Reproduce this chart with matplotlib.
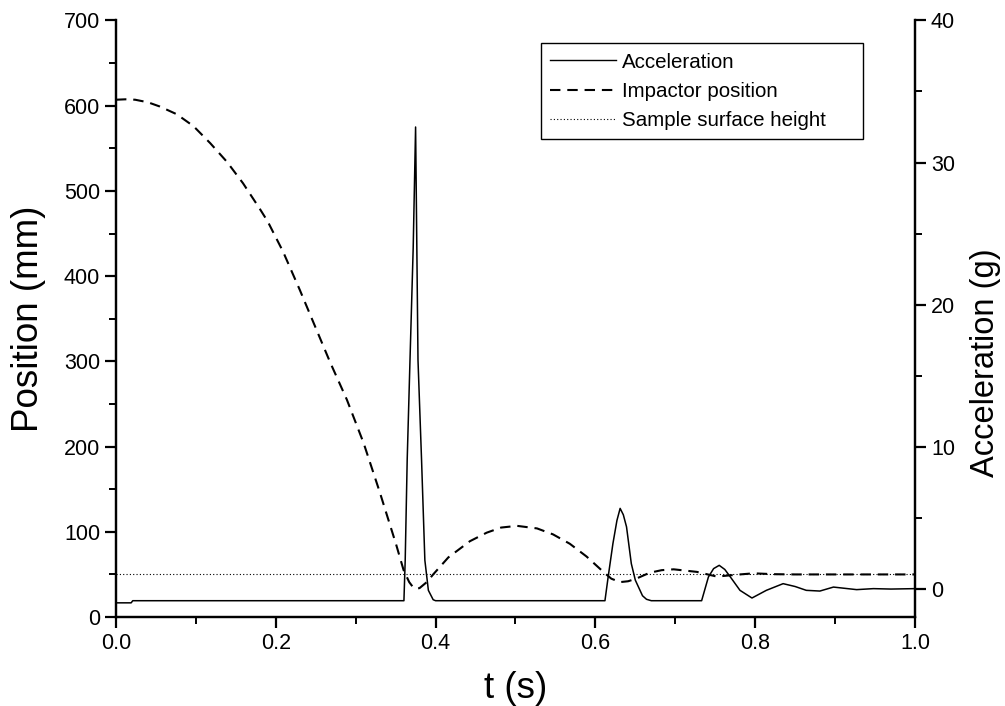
import matplotlib
matplotlib.use("Agg")
import matplotlib.pyplot as plt
from matplotlib.ticker import MultipleLocator, FormatStrFormatter
from matplotlib.lines import Line2D

plt.rcParams['font.family'] = ['Liberation Sans', 'DejaVu Sans']

# impactor position (mm)
t_pos = [0.0, 0.012, 0.024, 0.040, 0.055, 0.076, 0.097, 0.118, 0.139, 0.159,
         0.180, 0.190, 0.209, 0.230, 0.251, 0.268, 0.289, 0.310, 0.330, 0.351,
         0.360, 0.367, 0.371, 0.375, 0.380, 0.389, 0.397, 0.416, 0.443, 0.464,
         0.482, 0.502, 0.527, 0.547, 0.568, 0.589, 0.610, 0.620, 0.631, 0.641,
         0.651, 0.668, 0.683, 0.698, 0.727, 0.752, 0.781, 0.798, 0.823, 0.850,
         0.900, 0.950, 1.0]
pos = [607, 607.5, 607, 604, 599, 590, 576, 556, 534, 509,
       479, 464, 429, 384, 337, 299, 255, 204, 147, 84,
       55, 41, 36, 33, 34, 41, 50, 70, 89, 99,
       105, 107, 104, 97, 86, 71, 53, 45, 41, 42,
       45, 52, 55, 56, 53, 47.5, 50, 51.3, 50.3, 50,
       50, 50, 50]

# acceleration (g)
t_acc = [0.0, 0.019, 0.021, 0.3604, 0.362, 0.3645, 0.368, 0.372, 0.375, 0.378,
         0.3825, 0.3866, 0.391, 0.397, 0.400, 0.612, 0.616, 0.622, 0.627, 0.631,
         0.635, 0.639, 0.645, 0.650, 0.654, 0.659, 0.664, 0.670, 0.733, 0.7415,
         0.748, 0.755, 0.762, 0.769, 0.781, 0.796, 0.814, 0.835, 0.850, 0.864,
         0.881, 0.898, 0.927, 0.948, 0.970, 1.0]
acc = [-1.0, -1.0, -0.85, -0.85, 2.0, 9.1, 16.1, 24.0, 32.5, 16.1,
       9.0, 2.0, -0.12, -0.78, -0.85, -0.85, 0.82, 3.18, 4.8, 5.65,
       5.2, 4.35, 1.76, 0.6, 0.11, -0.5, -0.75, -0.85, -0.85, 0.82,
       1.41, 1.64, 1.35, 0.82, -0.12, -0.66, -0.12, 0.35, 0.15, -0.12,
       -0.17, 0.11, -0.07, 0.0, -0.03, 0.0]

surface_height = 50

fig = plt.figure(figsize=(10.05, 7.06), dpi=100)
ax = fig.add_axes([0.1154, 0.126, 0.795, 0.845])
ax2 = ax.twinx()

ax.plot(t_pos, pos, color='black', lw=1.5, linestyle=(0, (5, 3.3)))
ax.plot([0, 1], [surface_height, surface_height], color='black', lw=0.8, linestyle=(0, (1, 2)))
ax2.plot(t_acc, acc, color='black', lw=1.1)

ax.set_xlim(0, 1)
ax.set_ylim(0, 700)
ax2.set_ylim(-2, 40)

ax.xaxis.set_major_locator(MultipleLocator(0.2))
ax.xaxis.set_minor_locator(MultipleLocator(0.1))
ax.xaxis.set_major_formatter(FormatStrFormatter('%.1f'))
ax.yaxis.set_major_locator(MultipleLocator(100))
ax.yaxis.set_minor_locator(MultipleLocator(50))
ax2.yaxis.set_major_locator(MultipleLocator(10))
ax2.yaxis.set_minor_locator(MultipleLocator(5))

for a in (ax, ax2):
    a.spines['top'].set_visible(False)
    for s in a.spines.values():
        s.set_linewidth(1.6)
    a.tick_params(which='major', direction='out', length=8, width=1.6, labelsize=15.5)
    a.tick_params(which='minor', direction='out', length=5, width=1.4)

ax.set_xlabel('t (s)', fontsize=26.5, labelpad=12)
ax.set_ylabel('Position (mm)', fontsize=26.5, labelpad=13)
ax2.set_ylabel('Acceleration (g)', fontsize=23.5, labelpad=11)
# the right label sits a bit below the axis centre in the reference
ax2.yaxis.label.set_y(0.427)

handles = [Line2D([], [], color='black', lw=1.0),
           Line2D([], [], color='black', lw=1.5, linestyle=(0, (5, 3.3))),
           Line2D([], [], color='black', lw=0.8, linestyle=(0, (1, 2)))]
labels = ['Acceleration', 'Impactor position', 'Sample surface height']
# legend box spans x 541..863 px, top at 43 px
leg = ax.legend(handles, labels, loc='upper left',
                bbox_to_anchor=(0.532, 0.9615, 0.403, 0.0), mode='expand',
                fontsize=14.8, frameon=True, fancybox=False, framealpha=1,
                handlelength=3.2, handletextpad=0.3, labelspacing=0.5,
                borderpad=0.45, borderaxespad=0)
leg.get_frame().set_edgecolor('black')
leg.get_frame().set_linewidth(1.0)

fig.savefig('out.png', dpi=100)
